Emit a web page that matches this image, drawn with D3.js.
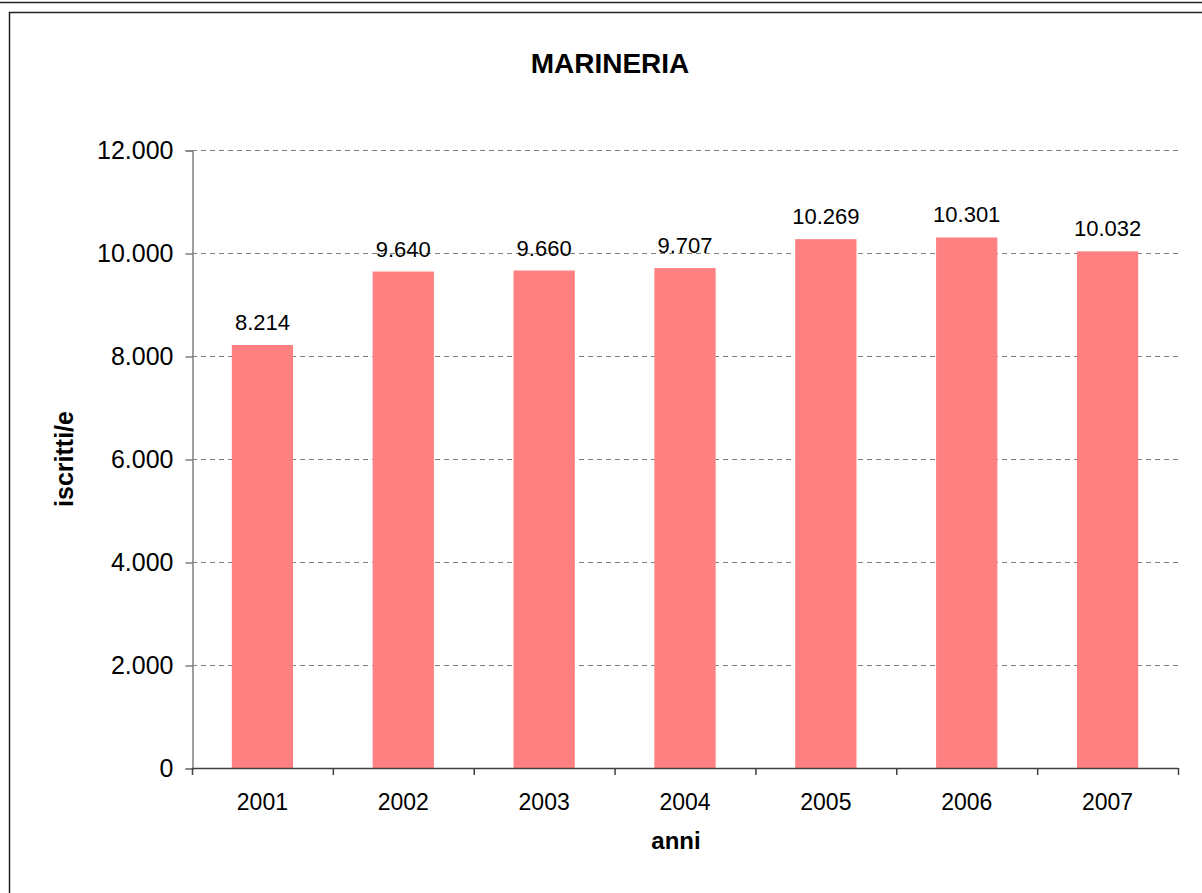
<!DOCTYPE html>
<html>
<head>
<meta charset="utf-8">
<script src="https://cdn.jsdelivr.net/npm/d3@7/dist/d3.min.js"></script>
<style>
  html, body { margin: 0; padding: 0; background: #fff; }
  svg { display: block; }
  text { font-family: "Liberation Sans", Arial, sans-serif; fill: #000; }
</style>
</head>
<body>
<svg id="chart" width="1202" height="893"></svg>
<script>
const categories = ["2001", "2002", "2003", "2004", "2005", "2006", "2007"];
const values = [8214, 9640, 9660, 9707, 10269, 10301, 10032];
const yTicks = [0, 2000, 4000, 6000, 8000, 10000, 12000];
const chartTitle = "MARINERIA";
const xTitle = "anni";
const yTitle = "iscritti/e";

const fmt = v => d3.format(",")(v).replace(/,/g, ".");

const svg = d3.select("#chart");
const plot = { left: 192, right: 1178, top: 150, bottom: 768 };

// outer frames
svg.append("line").attr("x1", 0).attr("x2", 1202).attr("y1", 2.5).attr("y2", 2.5)
  .attr("stroke", "#222").attr("stroke-width", 1.5);
svg.append("rect").attr("x", 9.5).attr("y", 12.5).attr("width", 1400).attr("height", 1000)
  .attr("fill", "none").attr("stroke", "#222").attr("stroke-width", 1.5);

const x = d3.scaleBand().domain(categories).range([plot.left, plot.right])
  .paddingInner(0.565).paddingOuter(0.2825);
const y = d3.scaleLinear().domain([0, 12000]).range([plot.bottom, plot.top]);

// gridlines
svg.append("g").selectAll("line").data(yTicks.filter(d => d > 0)).join("line")
  .attr("x1", plot.left).attr("x2", plot.right)
  .attr("y1", d => y(d) + 0.5).attr("y2", d => y(d) + 0.5)
  .attr("stroke", "#808080").attr("stroke-width", 1.2).attr("stroke-dasharray", "5,4");

// bars
svg.append("g").selectAll("rect").data(values).join("rect")
  .attr("x", (d, i) => x(categories[i]))
  .attr("y", d => y(d))
  .attr("width", x.bandwidth())
  .attr("height", d => y(0) - y(d))
  .attr("fill", "#FF8080");

// value labels
svg.append("g").selectAll("text").data(values).join("text")
  .attr("x", (d, i) => x(categories[i]) + x.bandwidth() / 2)
  .attr("y", d => y(d) - 15)
  .attr("text-anchor", "middle")
  .attr("font-size", 22)
  .text(d => fmt(d));

// y axis
const yAxis = d3.axisLeft(y).tickValues(yTicks).tickSize(7).tickFormat(fmt);
const gy = svg.append("g").attr("transform", `translate(${plot.left + 0.5},0.5)`).call(yAxis);
gy.select(".domain").attr("stroke", "#808080").attr("stroke-width", 1.5);
gy.selectAll(".tick line").attr("stroke", "#808080").attr("stroke-width", 1.5);
gy.selectAll(".tick text").attr("font-size", 25).attr("font-family", "Liberation Sans, Arial, sans-serif")
  .attr("fill", "#000").attr("x", -19).attr("dy", "0.33em");

// x axis
const step = x.step();
const boundaries = d3.range(categories.length + 1).map(i => plot.left + i * (plot.right - plot.left) / categories.length);
svg.append("line").attr("x1", plot.left).attr("x2", plot.right)
  .attr("y1", plot.bottom + 0.5).attr("y2", plot.bottom + 0.5)
  .attr("stroke", "#404040").attr("stroke-width", 1.5);
svg.append("g").selectAll("line").data(boundaries).join("line")
  .attr("x1", d => d + 0.5).attr("x2", d => d + 0.5)
  .attr("y1", plot.bottom).attr("y2", plot.bottom + 7)
  .attr("stroke", "#404040").attr("stroke-width", 1.5);
svg.append("g").selectAll("text").data(categories).join("text")
  .attr("x", d => x(d) + x.bandwidth() / 2)
  .attr("y", 810)
  .attr("text-anchor", "middle")
  .attr("font-size", 23)
  .text(d => d);

// titles
svg.append("text").attr("x", 610).attr("y", 73).attr("text-anchor", "middle")
  .attr("font-size", 28).attr("font-weight", "bold").text(chartTitle);
svg.append("text").attr("x", 676).attr("y", 849).attr("text-anchor", "middle")
  .attr("font-size", 24).attr("font-weight", "bold").text(xTitle);
svg.append("text").attr("transform", "translate(73,459) rotate(-90)").attr("text-anchor", "middle")
  .attr("font-size", 25).attr("font-weight", "bold").text(yTitle);
</script>
</body>
</html>
